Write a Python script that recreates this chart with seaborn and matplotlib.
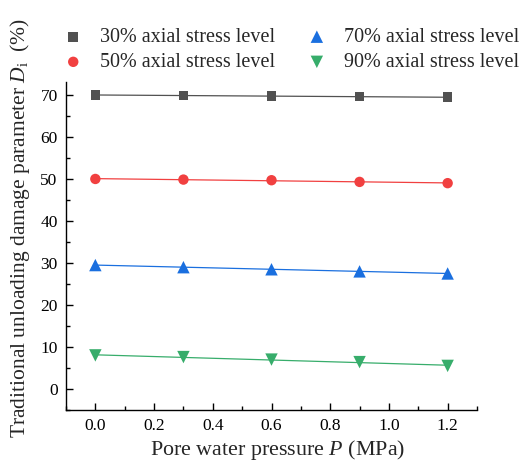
import numpy as np
import pandas as pd
import seaborn as sns
import matplotlib
matplotlib.use("Agg")
import matplotlib.pyplot as plt
from matplotlib.ticker import MultipleLocator

# ---- data ----
pressure = [0.0, 0.3, 0.6, 0.9, 1.2]
d_30 = [70.0, 69.85, 69.7, 69.6, 69.45]
d_50 = [50.0, 49.85, 49.7, 49.3, 49.0]
d_70 = [29.5, 29.0, 28.5, 28.0, 27.5]
d_90 = [8.0, 7.6, 7.0, 6.4, 5.5]
labels = ["30% axial stress level", "50% axial stress level",
          "70% axial stress level", "90% axial stress level"]
colors = ["#515151", "#F14040", "#1A6FDF", "#37AD6B"]
markers = ["s", "o", "^", "v"]
sizes = [48, 56, 80, 80]

sns.set_theme(style="ticks")
plt.rcParams["font.family"] = ["Liberation Serif", "DejaVu Serif"]
plt.rcParams["mathtext.fontset"] = "custom"
plt.rcParams["mathtext.rm"] = "Liberation Serif"
plt.rcParams["mathtext.it"] = "Liberation Serif:italic"

rows = []
for lab, vals in zip(labels, [d_30, d_50, d_70, d_90]):
    for p, v in zip(pressure, vals):
        rows.append({"P": p, "D": v, "level": lab})
df = pd.DataFrame(rows)

fig = plt.figure(figsize=(5.31, 4.61), dpi=100)
ax = fig.add_axes([0.1243, 0.1106, 0.7740, 0.7108])

handles = []
for lab, c, m, s in zip(labels, colors, markers, sizes):
    sub = df[df["level"] == lab]
    sns.regplot(data=sub, x="P", y="D", ax=ax, scatter=False, ci=None,
                truncate=True, color=c, line_kws={"lw": 0.9})
    sc = ax.scatter(sub["P"], sub["D"], marker=m, s=s, color=c,
                    edgecolors="none", zorder=3, label=lab)
    handles.append(sc)

ax.set_xlim(-0.1, 1.3)
ax.set_ylim(-5, 73)
ax.xaxis.set_minor_locator(MultipleLocator(0.1))
ax.yaxis.set_minor_locator(MultipleLocator(5))
ax.set_xticks([0.0, 0.2, 0.4, 0.6, 0.8, 1.0, 1.2])
ax.set_xticklabels(["0.0", "0.2", "0.4", "0.6", "0.8", "1.0", "1.2"])
ax.set_yticks([0, 10, 20, 30, 40, 50, 60, 70])
ax.tick_params(which="major", direction="in", length=5, width=1,
               labelsize=12.5, color="black", labelcolor="black", pad=6)
ax.tick_params(which="minor", direction="in", length=3, width=1, color="black")
sns.despine(ax=ax, top=True, right=True)
for sp in ["left", "bottom"]:
    ax.spines[sp].set_linewidth(1.0)
    ax.spines[sp].set_color("black")

ax.set_xlabel(r"Pore water pressure $P$ (MPa)", fontsize=15.8)
ax.xaxis.set_label_coords(0.515, -0.085)
ax.set_ylabel(r"Traditional unloading damage parameter $D_\mathrm{i}$  (%)",
              fontsize=15.5)
ax.yaxis.set_label_coords(-0.083, 0.555)

fig.legend(handles=handles, labels=labels, ncol=2, frameon=False,
           loc="upper left", bbox_to_anchor=(0.10, 0.957), fontsize=14.5,
           handletextpad=0.75, columnspacing=1.45, labelspacing=0.3,
           handlelength=1.2, borderaxespad=0)

fig.savefig("out.png", dpi=100)
